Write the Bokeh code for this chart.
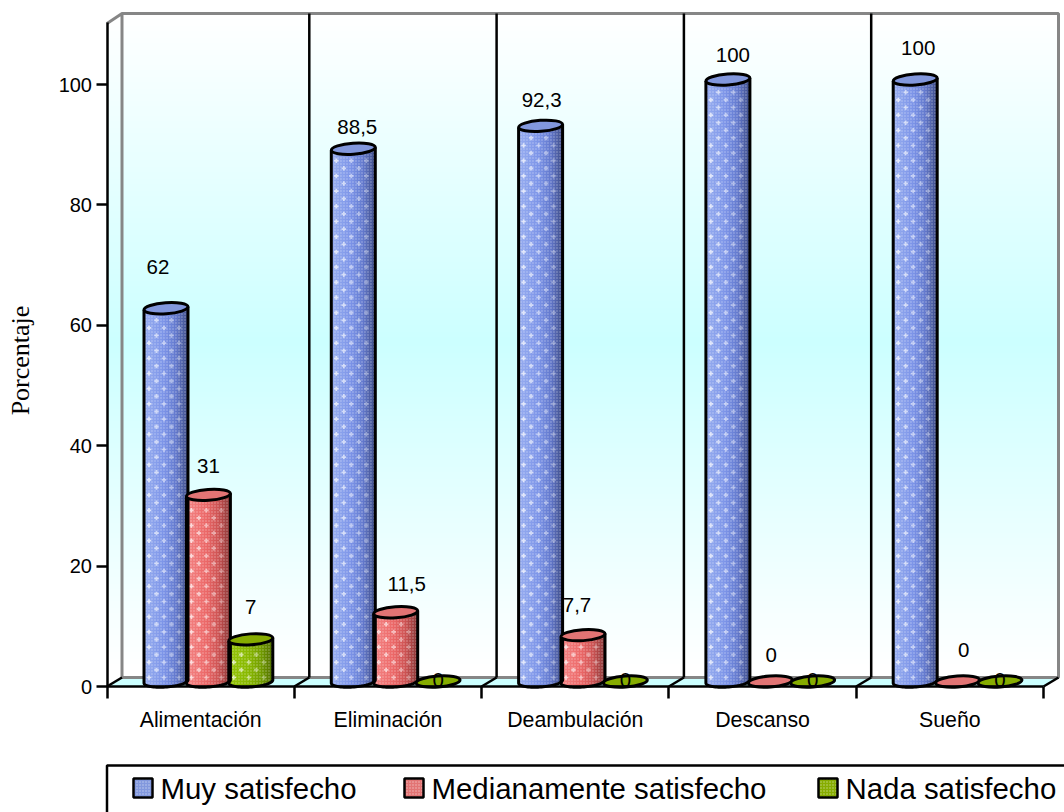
from bokeh.embed import file_html
from bokeh.models import Range1d, LinearAxis, FixedTicker
from bokeh.plotting import figure
from bokeh.resources import INLINE
from bokeh.core.properties import value
import numpy as np

# ---- chart values ----
categories = ["Alimentación", "Eliminación", "Deambulación", "Descanso", "Sueño"]
muy_satisfecho = [62, 88.5, 92.3, 100, 100]
medianamente_satisfecho = [31, 11.5, 7.7, 0, 0]
nada_satisfecho = [7, 0, 0, 0, 0]
series_names = ["Muy satisfecho", "Medianamente satisfecho", "Nada satisfecho"]
value_ticks = [0, 20, 40, 60, 80, 100]
label_texts = [["62", "88,5", "92,3", "100", "100"],
               ["31", "11,5", "7,7", "0", "0"],
               ["7", "0", "0", "0", "0"]]

# ---- page layout, in pixels ----
W, H = 1064, 812
AXIS_LEFT, AXIS_RIGHT = 106.5, 1043.0
ZERO_Y, HUNDRED_Y = 686.0, 84.0
DEPTH_X, DEPTH_Y = 15.0, 9.0
WALL_TOP = 13.0
CAT_W = (AXIS_RIGHT - AXIS_LEFT) / len(categories)
UNIT = (ZERO_Y - HUNDRED_Y) / 100.0
BAR_W, BAR_STEP, BAR_START = 44.0, 42.4, 37.0
CAP_H, CAP_SHIFT, CAP_TILT = 11.0, 5.0, 0.07

def dx(px):
    return (np.asarray(px, dtype=float) - AXIS_LEFT) / CAT_W

def dy(py):
    return (ZERO_Y - np.asarray(py, dtype=float)) / UNIT

p = figure(width=W, height=H, output_backend="svg", toolbar_location=None,
           x_range=Range1d(float(dx(0)), float(dx(W))),
           y_range=Range1d(float(dy(H)), float(dy(0))),
           min_border=0, background_fill_color="white", border_fill_color="white")
p.axis.visible = False
p.grid.visible = False
p.outline_line_color = None

# ---- chart box: shaded walls, floor and edges ----
shade_y = np.arange(WALL_TOP, ZERO_Y, 3.0)
mid = 340.0
def wall_colour(y):
    t = 1 - min(abs(y - mid) / (mid - WALL_TOP), 1.0)
    return "#%02x%02x%02x" % (int(round(255 - 51 * t)), 255, 255)
p.quad(left=dx(AXIS_LEFT), right=dx(AXIS_RIGHT + DEPTH_X), top=dy(shade_y), bottom=dy(ZERO_Y),
       fill_color=[wall_colour(y) for y in shade_y], line_color=None)
# white corner above the side wall
p.patch(dx([AXIS_LEFT - 1, AXIS_LEFT + DEPTH_X, AXIS_LEFT - 1]),
        dy([WALL_TOP - 2, WALL_TOP - 2, WALL_TOP + DEPTH_Y + 1]), fill_color="white", line_color=None)
# floor
p.patch(dx([AXIS_LEFT, AXIS_LEFT + DEPTH_X, AXIS_RIGHT + DEPTH_X, AXIS_RIGHT]),
        dy([ZERO_Y, ZERO_Y - DEPTH_Y, ZERO_Y - DEPTH_Y, ZERO_Y]), fill_color="#ccffff", line_color=None)
# grey wall edges
p.line(dx([AXIS_LEFT, AXIS_LEFT + DEPTH_X, AXIS_RIGHT + DEPTH_X, AXIS_RIGHT + DEPTH_X, AXIS_LEFT + DEPTH_X, AXIS_LEFT + DEPTH_X]),
       dy([WALL_TOP + DEPTH_Y + 1, WALL_TOP, WALL_TOP, ZERO_Y - DEPTH_Y, ZERO_Y - DEPTH_Y, WALL_TOP]),
       line_color="#868686", line_width=3)
# category dividers and their floor slants
bounds = np.arange(1, len(categories) + 1)
p.segment(bounds[:-1] + dx(AXIS_LEFT + DEPTH_X), dy(WALL_TOP), bounds[:-1] + dx(AXIS_LEFT + DEPTH_X), dy(ZERO_Y - DEPTH_Y),
          line_color="black", line_width=2.5)
all_bounds = np.arange(0, len(categories) + 1)
p.segment(all_bounds, 0, all_bounds + dx(AXIS_LEFT + DEPTH_X), dy(ZERO_Y - DEPTH_Y), line_color="black", line_width=2.5)

# ---- cylinders ----
ramps = [
    [(0.0, (152, 174, 240)), (0.45, (124, 148, 232)), (0.72, (100, 122, 205)), (1.0, (62, 76, 135))],
    [(0.0, (244, 134, 134)), (0.45, (236, 104, 104)), (0.72, (205, 84, 84)), (1.0, (135, 55, 55))],
    [(0.0, (150, 198, 10)), (0.45, (136, 184, 0)), (0.72, (116, 158, 0)), (1.0, (80, 110, 0))],
]
cap_colours = ["#8298dd", "#e27474", "#86ac00"]

def ramp_colour(ramp, t):
    for (t0, c0), (t1, c1) in zip(ramp, ramp[1:]):
        if t <= t1:
            f = (t - t0) / (t1 - t0)
            return "#%02x%02x%02x" % tuple(int(round(a + (b - a) * f)) for a, b in zip(c0, c1))
    return "#000000"

series = [muy_satisfecho, medianamente_satisfecho, nada_satisfecho]
L, R, T, B, C = [], [], [], [], []
sil_x, sil_y = [], []
caps = {"x": [], "y": [], "c": []}
spark = {"x": [], "y": [], "a": []}
n_strips = 22
for s, vals in enumerate(series):
    for c, v in enumerate(vals):
        x0 = AXIS_LEFT + c * CAT_W + BAR_START + s * BAR_STEP
        xc = x0 + BAR_W / 2
        top_y = ZERO_Y - v * UNIT - CAP_SHIFT
        base_y = ZERO_Y - CAP_SHIFT
        caps["x"].append(float(dx(xc)))
        caps["y"].append(float(dy(top_y)))
        caps["c"].append(cap_colours[s])
        if v == 0:
            continue
        edges = np.linspace(x0, x0 + BAR_W, n_strips + 1)
        for i in range(n_strips):
            m = (edges[i] + edges[i + 1]) / 2
            u = (m - xc) / (BAR_W / 2)
            L.append(float(dx(edges[i])))
            R.append(float(dx(min(edges[i + 1] + 1, x0 + BAR_W))))
            T.append(float(dy(top_y)))
            B.append(float(dy(base_y + CAP_H / 2 * np.sqrt(max(1 - u * u, 0)) - CAP_TILT * (m - xc))))
            C.append(ramp_colour(ramps[s], (m - x0) / BAR_W))
        th = np.linspace(np.pi, 0, 40)
        lower_x = xc + BAR_W / 2 * np.cos(th)
        lower_y = base_y + CAP_H / 2 * np.sin(th) - CAP_TILT * (lower_x - xc)
        edge = CAP_TILT * BAR_W / 2
        sil_x.append(list(dx(np.r_[x0, lower_x, x0 + BAR_W])))
        sil_y.append(list(dy(np.r_[top_y + edge, lower_y, top_y - edge])))
        # small light flecks in the cloth-like fill
        row = 0
        yy = base_y - 4
        while yy > top_y + 8:
            start = x0 + (5 if row % 2 == 0 else 12.5)
            for xx in np.arange(start, x0 + BAR_W - 3, 15.0):
                spark["x"].append(float(dx(xx)))
                spark["y"].append(float(dy(yy)))
                spark["a"].append(0.75 - 0.5 * (xx - x0) / BAR_W)
            yy -= 7.6
            row += 1

p.quad(left=L, right=R, top=T, bottom=B, fill_color=C, line_color=None)
p.patches(sil_x, sil_y, fill_color=None, line_color=None,
          hatch_pattern="dot", hatch_color="#ffffff", hatch_alpha=0.4, hatch_scale=3, hatch_weight=1)
p.scatter(spark["x"], spark["y"], marker="plus", size=4.5, color="white", alpha=spark["a"], line_color=None)
for xs, ys in zip(sil_x, sil_y):
    p.line(xs, ys, line_color="black", line_width=3)
p.ellipse(caps["x"], caps["y"], width=BAR_W / CAT_W, height=CAP_H / UNIT, angle=0.07, fill_color=caps["c"],
          line_color="black", line_width=3)

# ---- axes ----
y_axis = LinearAxis(ticker=FixedTicker(ticks=value_ticks), fixed_location=0, axis_line_color="black", axis_line_width=2.5,
                    major_tick_line_color="black", major_tick_line_width=2.5, major_tick_out=11, major_tick_in=0,
                    minor_tick_line_color=None, major_label_text_font="Liberation Sans",
                    major_label_text_font_size="20px", major_label_text_color="black", major_label_standoff=4,
                    bounds=(0, float(dy(WALL_TOP + DEPTH_Y))))
p.add_layout(y_axis, "left")

x_axis = LinearAxis(ticker=FixedTicker(ticks=list(map(int, all_bounds))), fixed_location=0, axis_line_color="black", axis_line_width=2.5,
                    major_tick_line_color="black", major_tick_line_width=2.5, major_tick_out=12, major_tick_in=0,
                    minor_tick_line_color=None, major_label_text_color=None, bounds=(0, len(categories)))
p.add_layout(x_axis, "below")

centres = [i + 0.5 for i in range(len(categories))]
name_axis = LinearAxis(ticker=FixedTicker(ticks=centres), fixed_location=0, axis_line_color=None,
                       major_tick_line_color=None, minor_tick_line_color=None, major_tick_out=0, major_tick_in=0,
                       major_label_overrides={c: n for c, n in zip(centres, categories)},
                       major_label_text_font="Liberation Sans", major_label_text_font_size="21.3px",
                       major_label_text_color="black", major_label_standoff=21)
p.add_layout(name_axis, "below")

p.text(dx([20]), dy([360]), text=["Porcentaje"], angle=np.pi / 2, text_align="center", text_baseline="middle",
       text_font=value("Liberation Serif"), text_font_size="26px", text_color="black")

# ---- value labels ----
label_offsets_x = [[-8, 4, 1, 5, 3], [0, 11, -6, 1, 6], [0, 0, 0, 0, 0]]
label_offsets_y = [[-36, -17, -21, -20, -27], [-24, -23, -25, -22, -27], [-27, 3, 3, 3, 3]]
tx, ty, tt = [], [], []
for s, vals in enumerate(series):
    for c, v in enumerate(vals):
        xc = AXIS_LEFT + c * CAT_W + BAR_START + s * BAR_STEP + BAR_W / 2
        top_y = ZERO_Y - v * UNIT - CAP_SHIFT
        tx.append(float(dx(xc + label_offsets_x[s][c])))
        ty.append(float(dy(top_y - 5 + label_offsets_y[s][c])))
        tt.append(label_texts[s][c])
p.text(tx, ty, text=tt, text_align="center", text_baseline="middle", text_font=value("Liberation Sans"),
       text_font_size="20.5px", text_color="black")

# ---- key ----
p.quad(left=dx([AXIS_LEFT]), right=dx([W + 20]), top=dy([765]), bottom=dy([H + 20]), fill_color="white",
       line_color="black", line_width=2.5)
swatch_left = [133, 404, 818]
text_left = [160, 431, 845]
p.quad(left=dx(swatch_left), right=dx(np.array(swatch_left) + 19), top=dy([778] * 3), bottom=dy([797] * 3),
       fill_color=cap_colours, line_color="black", line_width=2.5,
       hatch_pattern="dot", hatch_color="#ffffff", hatch_alpha=0.5, hatch_scale=3, hatch_weight=1)
p.text(dx(text_left), dy([788] * 3), text=series_names, text_baseline="middle", text_font=value("Liberation Sans"),
       text_font_size="29.4px", text_color="black")

open("out.html", "w").write(file_html(p, INLINE))
